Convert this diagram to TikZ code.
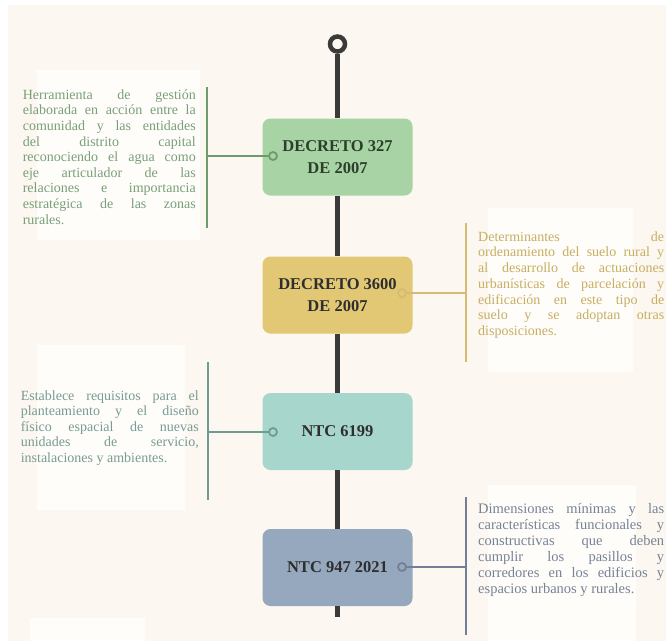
\documentclass[tikz,border=0pt]{standalone}
\usepackage{fontspec}
\setmainfont{Liberation Serif}
\usetikzlibrary{positioning}
\definecolor{papel}{HTML}{FCF7F0}
\definecolor{linea}{HTML}{3A3A3A}
\definecolor{verde}{HTML}{A7D3A5}
\definecolor{verdeosc}{HTML}{6C9C6B}
\definecolor{verdetxt}{HTML}{789F78}
\definecolor{verdelbl}{HTML}{2C3F2C}
\definecolor{oro}{HTML}{E2C874}
\definecolor{orolinea}{HTML}{D5BC72}
\definecolor{orotxt}{HTML}{C7AE62}
\definecolor{turq}{HTML}{A6D6CC}
\definecolor{turqlinea}{HTML}{6F9B93}
\definecolor{turqtxt}{HTML}{789B93}
\definecolor{azul}{HTML}{95A8BE}
\definecolor{azullinea}{HTML}{727F96}
\definecolor{azultxt}{HTML}{768295}
\begin{document}
\begin{tikzpicture}[x=1pt,y=-1pt,
  caja/.style={rounded corners=8pt, minimum width=150pt, minimum height=77pt, align=center, text=black!82,
    font=\fontsize{16.5}{22}\selectfont\bfseries},
  punto/.style={circle, draw, line width=1.8pt, minimum size=8pt, inner sep=0pt},
  nota/.style={align=justify, inner sep=0pt, text width=#1},
  eje/.style={line width=4.5pt, draw=linea},
  rama/.style={line width=2.6pt}]
% fondo
\fill[white] (0,0) rectangle (666,641);
\fill[papel] (8,5) rectangle (666,641);
\fill[white!70!papel] (37,70) rectangle (200,240);
\fill[white!70!papel] (488,208) rectangle (633,372);
\fill[white!70!papel] (37,345) rectangle (185,510);
\fill[white!70!papel] (488,485) rectangle (636,641);
\fill[white!70!papel] (30,618) rectangle (145,641);

% linea de tiempo
\node [circle, draw=linea, line width=4.5pt, minimum size=15pt, inner sep=0pt] (inicio) at (337.5,44) {};
\node [caja, fill=verde, text=verdelbl] (d327) at (337.5,157) {DECRETO 327\\DE 2007};
\node [caja, fill=oro] (d3600) at (337.5,295) {DECRETO 3600\\DE 2007};
\node [caja, fill=turq] (n6199) at (337.5,431.5) {NTC 6199};
\node [caja, fill=azul] (n947) at (337.5,567.5) {NTC 947 2021};
\coordinate (fin) at (337.5,617);
\draw [eje] (inicio) -- (d327);
\draw [eje] (d327) -- (d3600);
\draw [eje] (d3600) -- (n6199);
\draw [eje] (n6199) -- (n947);
\draw [eje] (n947) -- (fin);

% DECRETO 327
\node [punto, draw=verdeosc, fill=verde] (p327) at (273,156) {};
\coordinate (b327) at (207,156);
\coordinate (b327a) at (207,87);
\coordinate (b327b) at (207,228);
\draw [rama, verdeosc] (b327a) -- (b327b);
\draw [rama, verdeosc] (p327) -- (b327);
\node [nota=173pt, text=verdetxt, font=\fontsize{14}{15.6}\selectfont, left=11pt of b327, yshift=-1pt] (t327)
  {Herramienta de gestión\linebreak
   elaborada en acción entre la\linebreak
   comunidad y las entidades\linebreak
   del distrito capital\linebreak
   reconociendo el agua como\linebreak
   eje articulador de las\linebreak
   relaciones e importancia\linebreak
   estratégica de las zonas\linebreak
   rurales.};

% DECRETO 3600
\node [punto, draw=orolinea, fill=oro] (p3600) at (402,293) {};
\coordinate (b3600) at (466,293);
\coordinate (b3600a) at (466,223);
\coordinate (b3600b) at (466,362);
\draw [rama, orolinea] (b3600a) -- (b3600b);
\draw [rama, orolinea] (p3600) -- (b3600);
\node [nota=186pt, text=orotxt, font=\fontsize{14}{15.7}\selectfont, right=12pt of b3600, yshift=8pt] (t3600)
  {Determinantes de\linebreak
   ordenamiento del suelo rural y\linebreak
   al desarrollo de actuaciones\linebreak
   urbanísticas de parcelación y\linebreak
   edificación en este tipo de\linebreak
   suelo y se adoptan otras\linebreak
   disposiciones.};

% NTC 6199
\node [punto, draw=turqlinea, fill=turq] (p6199) at (273,432) {};
\coordinate (b6199) at (208,432);
\coordinate (b6199a) at (208,362);
\coordinate (b6199b) at (208,500);
\draw [rama, turqlinea] (b6199a) -- (b6199b);
\draw [rama, turqlinea] (p6199) -- (b6199);
\node [nota=178pt, text=turqtxt, font=\fontsize{14}{15.4}\selectfont, left=9pt of b6199, yshift=4pt] (t6199)
  {Establece requisitos para el\linebreak
   planteamiento y el diseño\linebreak
   físico espacial de nuevas\linebreak
   unidades de servicio,\linebreak
   instalaciones y ambientes.};

% NTC 947 2021
\node [punto, draw=azullinea, fill=azul] (p947) at (402,567) {};
\coordinate (b947) at (466,567);
\coordinate (b947a) at (466,497);
\coordinate (b947b) at (466,635);
\draw [rama, azullinea] (b947a) -- (b947b);
\draw [rama, azullinea] (p947) -- (b947);
\node [nota=186pt, text=azultxt, font=\fontsize{14.5}{16}\selectfont, right=12pt of b947, yshift=17pt] (t947)
  {Dimensiones mínimas y las\linebreak
   características funcionales y\linebreak
   constructivas que deben\linebreak
   cumplir los pasillos y\linebreak
   corredores en los edificios y\linebreak
   espacios urbanos y rurales.};
\end{tikzpicture}
\end{document}
